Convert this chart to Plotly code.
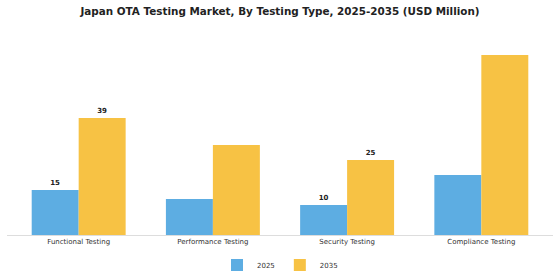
import plotly.graph_objects as go

categories = ["Functional Testing", "Performance Testing", "Security Testing", "Compliance Testing"]
values_2025 = [15, 12, 10, 20]
values_2035 = [39, 30, 25, 60]
labels_2025 = ["15", "", "10", ""]
labels_2035 = ["39", "", "25", ""]

fig = go.Figure()
fig.add_trace(go.Bar(
    name="2025", x=categories, y=values_2025, marker_color="#5DADE2",
    marker_line_width=0,
    text=labels_2025, textposition="outside", cliponaxis=False,
    textfont=dict(family="DejaVu Sans", size=7, color="#222222", weight="bold"),
))
fig.add_trace(go.Bar(
    name="2035", x=categories, y=values_2035, marker_color="#F7C244",
    marker_line_width=0,
    text=labels_2035, textposition="outside", cliponaxis=False,
    textfont=dict(family="DejaVu Sans", size=7, color="#222222", weight="bold"),
))

fig.update_layout(
    width=560, height=280,
    margin=dict(l=7, r=7, t=46, b=45, autoexpand=False),
    paper_bgcolor="white", plot_bgcolor="white",
    barmode="group", bargap=0.3, bargroupgap=0,
    title=dict(
        text="<b>Japan OTA Testing Market, By Testing Type, 2025-2035 (USD Million)</b>",
        x=0.5, xanchor="center", y=1 - 11 / 280, yanchor="middle",
        font=dict(family="DejaVu Sans", size=10.4, color="#222222"),
    ),
    font=dict(family="DejaVu Sans", size=7, color="#333333"),
    showlegend=True,
    legend=dict(
        orientation="h", x=0.5, xanchor="center",
        yref="container", y=15 / 280, yanchor="middle",
        font=dict(family="DejaVu Sans", size=7, color="#333333"),
        itemwidth=30,
    ),
    uniformtext=dict(minsize=7, mode="show"),
)
fig.update_xaxes(
    range=[-0.534, 3.534], showline=True, linecolor="#DDDDDD", linewidth=1,
    showgrid=False, ticks="", tickfont=dict(family="DejaVu Sans", size=7, color="#333333"),
    fixedrange=True,
)
fig.update_yaxes(
    range=[0, 63], visible=False, showgrid=False, zeroline=False, fixedrange=True,
)

fig.write_html("out.html")
